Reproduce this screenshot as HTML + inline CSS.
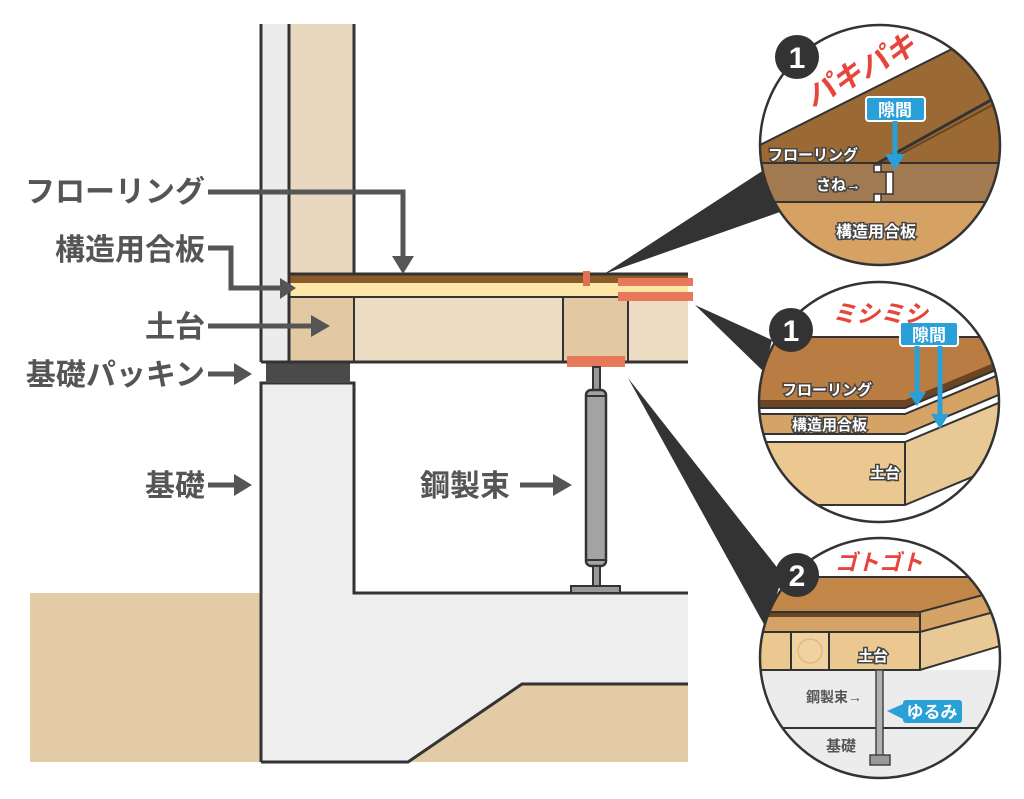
<!DOCTYPE html>
<html><head><meta charset="utf-8"><style>
html,body{margin:0;padding:0;background:#fff}
svg{display:block}
.lb{font-family:"Liberation Sans","Noto Sans CJK JP",sans-serif;font-weight:bold;fill:#555}
.w{font-family:"Liberation Sans","Noto Sans CJK JP",sans-serif;font-weight:bold;fill:#fff;stroke:#444;stroke-width:3;paint-order:stroke}
.g{font-family:"Liberation Sans","Noto Sans CJK JP",sans-serif;font-weight:bold;fill:#555}
.r{font-family:"Liberation Sans","Noto Sans CJK JP",sans-serif;font-weight:bold;fill:#e8443a;font-style:italic}
.b{font-family:"Liberation Sans","Noto Sans CJK JP",sans-serif;font-weight:bold;fill:#fff}
</style></head><body>
<svg width="1024" height="799" viewBox="0 0 1024 799" xmlns="http://www.w3.org/2000/svg">
<defs>
<clipPath id="c1"><circle cx="880" cy="145" r="120"/></clipPath>
<clipPath id="c2"><circle cx="879" cy="402" r="120"/></clipPath>
<clipPath id="c3"><circle cx="880" cy="658" r="120"/></clipPath>
</defs>
<rect x="30" y="593" width="232" height="169" fill="#e2cba5"/>
<polygon points="408,762 522,684 688,684 688,762" fill="#e2cba5"/>
<polygon points="261,383 354,383 354,593 688,593 688,684 522,684 408,762 261,762" fill="#eeeeee"/>
<polyline points="261,762 261,383 354,383 354,593 688,593" fill="none" stroke="#333" stroke-width="3"/>
<polyline points="261,762 408,762 522,684 688,684" fill="none" stroke="#333" stroke-width="3"/>
<rect x="266" y="362" width="84" height="21" fill="#4a4a4a"/>
<rect x="261" y="24" width="28" height="338" fill="#ececec"/>
<rect x="289" y="24" width="65" height="250" fill="#e9d8c0"/>
<line x1="261" y1="24" x2="261" y2="362" stroke="#333" stroke-width="3"/>
<line x1="289" y1="24" x2="289" y2="274" stroke="#333" stroke-width="3"/>
<line x1="354" y1="24" x2="354" y2="274" stroke="#333" stroke-width="3"/>
<rect x="289" y="274" width="399" height="9" fill="#8b5a2b"/>
<rect x="289" y="283" width="399" height="14" fill="#fde7a8"/>
<rect x="289" y="297" width="65" height="65" fill="#e2c9a4"/>
<rect x="354" y="297" width="334" height="65" fill="#ecdcc3"/>
<rect x="563" y="297" width="65" height="65" fill="#e2c9a4"/>
<line x1="289" y1="274" x2="688" y2="274" stroke="#333" stroke-width="3"/>
<line x1="289" y1="297" x2="688" y2="297" stroke="#333" stroke-width="2"/>
<line x1="261" y1="362" x2="688" y2="362" stroke="#333" stroke-width="3"/>
<line x1="289" y1="274" x2="289" y2="362" stroke="#333" stroke-width="3"/>
<line x1="354" y1="297" x2="354" y2="362" stroke="#333" stroke-width="2"/>
<line x1="563" y1="297" x2="563" y2="362" stroke="#333" stroke-width="2"/>
<line x1="628" y1="297" x2="628" y2="362" stroke="#333" stroke-width="2"/>
<rect x="583" y="271" width="7" height="15" fill="#e07050"/>
<rect x="618" y="278" width="75" height="8" fill="#e8785a"/>
<rect x="618" y="292" width="75" height="9" fill="#e8785a"/>
<rect x="567" y="356" width="58" height="11" fill="#e8785a"/>
<rect x="593" y="367" width="7" height="24" fill="#999" stroke="#333" stroke-width="2"/>
<rect x="586" y="390" width="20" height="176" rx="5" fill="#a3a3a3" stroke="#333" stroke-width="2.5"/>
<line x1="587" y1="396" x2="605" y2="396" stroke="#333" stroke-width="2"/>
<line x1="587" y1="560" x2="605" y2="560" stroke="#333" stroke-width="2"/>
<rect x="593" y="566" width="7" height="21" fill="#999" stroke="#333" stroke-width="2"/>
<rect x="571" y="586" width="49" height="7" fill="#999" stroke="#333" stroke-width="2"/>
<g fill="none" stroke="#555" stroke-width="5">
<polyline points="208,192 403,192 403,258"/>
<polyline points="208,248 231,248 231,288 282,288"/>
<line x1="208" y1="326" x2="314" y2="326"/>
<line x1="208" y1="374" x2="236" y2="374"/>
<line x1="208" y1="485" x2="236" y2="485"/>
<line x1="520" y1="485" x2="555" y2="485"/>
</g>
<g fill="#555">
<polygon points="392,256 414,256 403,274"/>
<polygon points="280,278 296,288 280,299"/>
<polygon points="311,315 330,326 311,337"/>
<polygon points="234,363 252,374 234,385"/>
<polygon points="234,474 252,485 234,496"/>
<polygon points="553,474 572,485 553,496"/>
</g>
<text class="lb" x="205" y="202" font-size="30" text-anchor="end">フローリング</text>
<text class="lb" x="205" y="260" font-size="30" text-anchor="end">構造用合板</text>
<text class="lb" x="205" y="337" font-size="30" text-anchor="end">土台</text>
<text class="lb" x="205" y="385" font-size="30" text-anchor="end">基礎パッキン</text>
<text class="lb" x="205" y="496" font-size="30" text-anchor="end">基礎</text>
<text class="lb" x="510" y="496" font-size="30" text-anchor="end">鋼製束</text>
<polygon points="604,274 770,166 780,212" fill="#333"/>
<polygon points="695,305 772,340 764,372" fill="#333"/>
<polygon points="628,378 783,575 766,628" fill="#333"/>
<circle cx="880" cy="145" r="120" fill="#fff"/>
<g clip-path="url(#c1)">
<polygon points="740,155 1010,20 1010,163 740,163" fill="#9b6a34"/>
<line x1="740" y1="155" x2="1010" y2="20" stroke="#333" stroke-width="2"/>
<line x1="878" y1="163" x2="1000" y2="95" stroke="#333" stroke-width="3"/>
<line x1="884" y1="163" x2="1000" y2="101" stroke="#6a4520" stroke-width="2"/>
<rect x="740" y="163" width="280" height="39" fill="#a27a52"/>
<rect x="740" y="202" width="280" height="70" fill="#d5a264"/>
<line x1="740" y1="163" x2="1010" y2="163" stroke="#333" stroke-width="2"/>
<line x1="740" y1="202" x2="1010" y2="202" stroke="#333" stroke-width="2"/>
<polygon points="874,165 881,165 881,172 893,172 893,194 881,194 881,202 874,202 874,194 886,194 886,172 874,172" fill="#fff" stroke="#333" stroke-width="1.5"/>
</g>
<circle cx="880" cy="145" r="120" fill="none" stroke="#333" stroke-width="2.5"/>
<text class="w" x="768" y="160" font-size="15">フローリング</text>
<text class="w" x="816" y="190" font-size="15">さね→</text>
<text class="w" x="836" y="237" font-size="16">構造用合板</text>
<rect x="866" y="97" width="59" height="24" rx="3" fill="#2aa0d8" stroke="#fff" stroke-width="2"/>
<text class="b" x="895" y="116" font-size="17" text-anchor="middle">隙間</text>
<line x1="895" y1="121" x2="895" y2="156" stroke="#2aa0d8" stroke-width="5"/>
<polygon points="885,154 905,154 895,170" fill="#2aa0d8"/>
<circle cx="797" cy="57" r="22" fill="#333"/>
<text x="797" y="68" font-size="30" font-weight="bold" fill="#fff" text-anchor="middle" font-family="Liberation Sans,sans-serif">1</text>
<text class="r" x="812" y="108" font-size="30" transform="rotate(-28 812 108)">パキパキ</text>
<circle cx="879" cy="402" r="120" fill="#fff"/>
<g clip-path="url(#c2)">
<polygon points="740,337 1020,337 1020,360 905,408 740,408" fill="#b97c43"/>
<polygon points="905,400 1020,352 1020,360 905,408" fill="#6b4424"/>
<rect x="740" y="400" width="165" height="8" fill="#6b4424"/>
<rect x="740" y="414" width="165" height="20" fill="#d6a366"/>
<polygon points="905,414 1020,366 1020,386 905,434" fill="#d6a366"/>
<rect x="740" y="442" width="165" height="63" fill="#ebc890"/>
<polygon points="905,442 1020,394 1020,457 905,505" fill="#e8c894"/>
<g stroke="#333" stroke-width="2" fill="none">
<line x1="740" y1="337" x2="1020" y2="337"/>
<polyline points="740,408 905,408 1020,360"/>
<polyline points="740,414 905,414 1020,366"/>
<polyline points="740,434 905,434 1020,386"/>
<polyline points="740,442 905,442 1020,394"/>
<polyline points="740,505 905,505 1020,457"/>
<line x1="905" y1="442" x2="905" y2="505"/>
</g>
</g>
<circle cx="879" cy="402" r="120" fill="none" stroke="#333" stroke-width="2.5"/>
<text class="w" x="782" y="395" font-size="15">フローリング</text>
<text class="w" x="792" y="430" font-size="15">構造用合板</text>
<text class="w" x="870" y="478" font-size="15">土台</text>
<rect x="900" y="322" width="58" height="24" rx="3" fill="#2aa0d8" stroke="#fff" stroke-width="2"/>
<text class="b" x="929" y="341" font-size="17" text-anchor="middle">隙間</text>
<line x1="917" y1="346" x2="917" y2="394" stroke="#2aa0d8" stroke-width="5"/>
<polygon points="908,392 926,392 917,406" fill="#2aa0d8"/>
<line x1="940" y1="346" x2="940" y2="416" stroke="#2aa0d8" stroke-width="5"/>
<polygon points="931,414 949,414 940,429" fill="#2aa0d8"/>
<circle cx="791" cy="330" r="22" fill="#333"/>
<text x="791" y="341" font-size="30" font-weight="bold" fill="#fff" text-anchor="middle" font-family="Liberation Sans,sans-serif">1</text>
<text class="r" x="832" y="322" font-size="24">ミシミシ</text>
<circle cx="880" cy="658" r="120" fill="#fff"/>
<g clip-path="url(#c3)">
<rect x="740" y="670" width="290" height="130" fill="#ececec"/>
<line x1="740" y1="728" x2="1020" y2="728" stroke="#333" stroke-width="2"/>
<polygon points="740,577 1020,577 1020,600 920,612 740,612" fill="#c4874a"/>
<rect x="740" y="612" width="180" height="5" fill="#6b4424"/>
<rect x="740" y="617" width="180" height="15" fill="#d6a366"/>
<polygon points="920,612 1020,585 1020,605 920,632" fill="#d6a366"/>
<rect x="740" y="632" width="180" height="38" fill="#ebc890"/>
<polygon points="920,632 1020,605 1020,640 920,670" fill="#e8c894"/>
<rect x="791" y="632" width="38" height="38" fill="#f0d2a2"/>
<circle cx="810" cy="651" r="12" fill="none" stroke="#e2b87e" stroke-width="1.5"/>
<g stroke="#333" stroke-width="2" fill="none">
<line x1="740" y1="577" x2="1020" y2="577"/>
<polyline points="740,612 920,612 1020,585"/>
<polyline points="740,632 920,632 1020,605"/>
<polyline points="740,670 920,670 1020,640"/>
<line x1="920" y1="612" x2="920" y2="670"/>
<line x1="791" y1="632" x2="791" y2="670"/>
<line x1="829" y1="632" x2="829" y2="670"/>
</g>
<rect x="876" y="670" width="7" height="88" fill="#b0b0b0" stroke="#444" stroke-width="1.5"/>
<rect x="870" y="755" width="20" height="10" fill="#999" stroke="#444" stroke-width="1.5"/>
</g>
<circle cx="880" cy="658" r="120" fill="none" stroke="#333" stroke-width="2.5"/>
<text class="w" x="858" y="661" font-size="15">土台</text>
<text class="g" x="806" y="702" font-size="14">鋼製束→</text>
<text class="g" x="826" y="751" font-size="15">基礎</text>
<rect x="903" y="700" width="59" height="23" rx="3" fill="#2aa0d8"/>
<text class="b" x="932" y="718" font-size="17" text-anchor="middle">ゆるみ</text>
<polygon points="903,704 903,719 887,711" fill="#2aa0d8"/>
<circle cx="797" cy="575" r="22" fill="#333"/>
<text x="797" y="586" font-size="30" font-weight="bold" fill="#fff" text-anchor="middle" font-family="Liberation Sans,sans-serif">2</text>
<text class="r" x="835" y="570" font-size="22">ゴトゴト</text>
</svg>
</body></html>
